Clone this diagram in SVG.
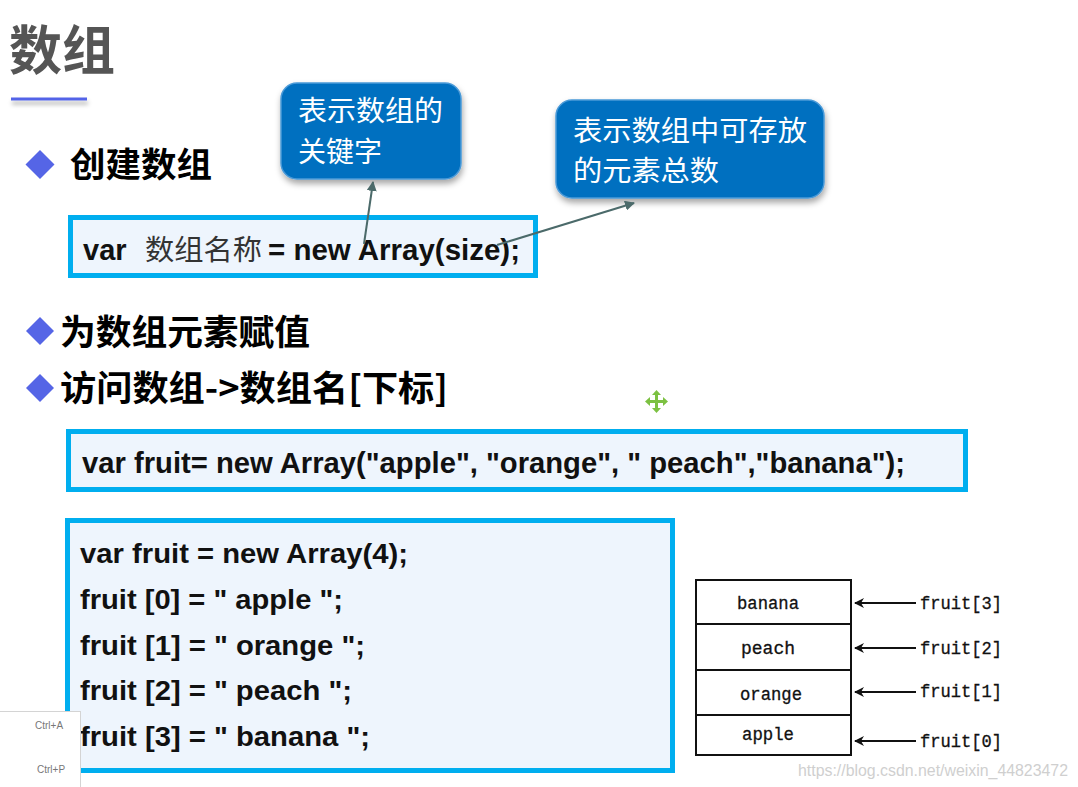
<svg xmlns="http://www.w3.org/2000/svg" width="1078" height="787" viewBox="0 0 1078 787">
<defs>
<style>
.cjkb{font-family:"Noto Sans CJK SC","Noto Sans",sans-serif;font-weight:700;fill:#000}
.callout{fill:#0470c0;stroke:#4a9ad8;stroke-width:1.5}
.ctext{font-family:"Noto Sans CJK SC","Noto Sans",sans-serif;font-size:28px;fill:#fff}
.code{fill:#eef5fd;stroke:#00aeef;stroke-width:5}
.ctx{font-family:"Liberation Sans",Arial,sans-serif;font-weight:700;fill:#111}
.bullet{fill:#5565e6}
.cell{fill:#fff;stroke:#111;stroke-width:2}
.mono{font-family:"Liberation Mono","DejaVu Sans Mono",monospace;font-size:18px;fill:#111;stroke:#111;stroke-width:0.3}
.conn{stroke:#4b6a6a;stroke-width:2;fill:none}
.tarr{stroke:#111;stroke-width:2;fill:none}
</style>
<filter id="shadow" x="-10%" y="-10%" width="130%" height="140%">
<feDropShadow dx="1" dy="4" stdDeviation="3" flood-color="#000" flood-opacity="0.35"/>
</filter>
<filter id="lshadow" x="-10%" y="-200%" width="130%" height="600%">
<feDropShadow dx="1" dy="4" stdDeviation="2" flood-color="#000" flood-opacity="0.3"/>
</filter>
<marker id="ah" viewBox="0 0 10 10" refX="9" refY="5" markerWidth="5" markerHeight="5" orient="auto">
<path d="M0,0 L10,5 L0,10 z" fill="#4b6a6a"/>
</marker>
<marker id="ahb" viewBox="0 0 10 10" refX="9" refY="5" markerWidth="11" markerHeight="10" markerUnits="userSpaceOnUse" orient="auto">
<path d="M0,0 L10,5 L0,10 L3,5 z" fill="#111"/>
</marker>
</defs>
<rect width="1078" height="787" fill="#fff"/>

<g id="title">
<text x="9" y="70" class="cjkb" font-size="53" style="fill:#555">数组</text>
<rect x="11" y="97.5" width="76" height="3" fill="#5363e8" filter="url(#lshadow)"/>
</g>

<g id="bullet-create">
<polygon class="bullet" points="40,150 54.5,164.5 40,179 25.5,164.5"/>
<text x="70" y="177" class="cjkb" font-size="34" textLength="142" lengthAdjust="spacingAndGlyphs">创建数组</text>
</g>

<g id="callout-keyword">
<rect class="callout" x="281" y="83" width="180" height="96" rx="16" filter="url(#shadow)"/>
<text x="298" y="121" class="ctext" textLength="145" lengthAdjust="spacingAndGlyphs">表示数组的</text>
<text x="298" y="162" class="ctext">关键字</text>
</g>

<g id="callout-size">
<rect class="callout" x="556" y="100" width="268" height="98" rx="16" filter="url(#shadow)"/>
<text x="573" y="141" class="ctext" textLength="234" lengthAdjust="spacingAndGlyphs">表示数组中可存放</text>
<text x="573" y="181" class="ctext" textLength="146" lengthAdjust="spacingAndGlyphs">的元素总数</text>
</g>

<g id="code-create">
<rect class="code" x="70.5" y="217.5" width="465" height="58"/>
<text x="83" y="260" class="ctx" font-size="29">var</text>
<text x="145" y="260" font-family="'Noto Sans CJK SC',sans-serif" font-size="28" fill="#333" textLength="117" lengthAdjust="spacingAndGlyphs">数组名称</text>
<text x="268" y="260" class="ctx" font-size="29" textLength="252" lengthAdjust="spacingAndGlyphs">= new Array(size);</text>
</g>

<g id="connectors">
<line class="conn" x1="364" y1="244" x2="373" y2="182" marker-end="url(#ah)"/>
<line class="conn" x1="497" y1="245" x2="634" y2="203" marker-end="url(#ah)"/>
</g>

<g id="bullet-assign">
<polygon class="bullet" points="40,317 54,331 40,345 26,331"/>
<text x="60" y="345" class="cjkb" font-size="35" textLength="250" lengthAdjust="spacingAndGlyphs">为数组元素赋值</text>
</g>

<g id="bullet-access">
<polygon class="bullet" points="40,374 54,388 40,402 26,388"/>
<text x="60" y="401" class="cjkb" font-size="35" textLength="388" lengthAdjust="spacingAndGlyphs">访问数组-&gt;数组名[下标]</text>
</g>

<g id="move-icon" fill="#7cc142">
<rect x="648" y="400" width="17" height="3"/>
<rect x="655" y="393" width="3" height="17"/>
<polygon points="656.5,390 652,395 661,395"/>
<polygon points="656.5,413 652,408 661,408"/>
<polygon points="645,401.5 650,397 650,406"/>
<polygon points="668,401.5 663,397 663,406"/>
</g>

<g id="code-literal">
<rect class="code" x="68.5" y="431.5" width="897" height="58"/>
<text x="82" y="473" class="ctx" font-size="29" textLength="823" lengthAdjust="spacingAndGlyphs">var fruit= new Array("apple", "orange", " peach","banana");</text>
</g>

<g id="code-assign">
<rect class="code" x="67.5" y="520.5" width="605" height="250"/>
<text x="80" y="563" class="ctx" font-size="28" textLength="328" lengthAdjust="spacingAndGlyphs">var fruit = new Array(4);</text>
<text x="80" y="609" class="ctx" font-size="28" textLength="263" lengthAdjust="spacingAndGlyphs">fruit [0] = " apple ";</text>
<text x="80" y="655" class="ctx" font-size="28" textLength="285" lengthAdjust="spacingAndGlyphs">fruit [1] = " orange ";</text>
<text x="80" y="700" class="ctx" font-size="28" textLength="272" lengthAdjust="spacingAndGlyphs">fruit [2] = " peach ";</text>
<text x="80" y="746" class="ctx" font-size="28" textLength="290" lengthAdjust="spacingAndGlyphs">fruit [3] = " banana ";</text>
</g>

<g id="array-table">
<rect class="cell" x="696" y="580" width="155" height="44"/>
<rect class="cell" x="696" y="624" width="155" height="46"/>
<rect class="cell" x="696" y="670" width="155" height="45"/>
<rect class="cell" x="696" y="715" width="155" height="40"/>
<text x="768" y="609" class="mono" text-anchor="middle" textLength="62" lengthAdjust="spacingAndGlyphs">banana</text>
<text x="768" y="654" class="mono" text-anchor="middle" textLength="54" lengthAdjust="spacingAndGlyphs">peach</text>
<text x="771" y="700" class="mono" text-anchor="middle" textLength="62" lengthAdjust="spacingAndGlyphs">orange</text>
<text x="768" y="740" class="mono" text-anchor="middle" textLength="52" lengthAdjust="spacingAndGlyphs">apple</text>
</g>

<g id="index-labels">
<text x="920" y="609" class="mono" textLength="82" lengthAdjust="spacingAndGlyphs">fruit[3]</text>
<text x="920" y="654" class="mono" textLength="82" lengthAdjust="spacingAndGlyphs">fruit[2]</text>
<text x="920" y="697" class="mono" textLength="82" lengthAdjust="spacingAndGlyphs">fruit[1]</text>
<text x="920" y="747" class="mono" textLength="82" lengthAdjust="spacingAndGlyphs">fruit[0]</text>
</g>

<g id="table-arrows">
<line class="tarr" x1="916" y1="603" x2="855" y2="603" marker-end="url(#ahb)"/>
<line class="tarr" x1="916" y1="648" x2="855" y2="648" marker-end="url(#ahb)"/>
<line class="tarr" x1="916" y1="692" x2="855" y2="692" marker-end="url(#ahb)"/>
<line class="tarr" x1="916" y1="741" x2="855" y2="741" marker-end="url(#ahb)"/>
</g>

<g id="context-menu">
<rect x="-1" y="711.5" width="81.5" height="80" fill="#fff" stroke="#d4d4d4" stroke-width="1"/>
<text x="35" y="729" font-family="'Liberation Sans',Arial,sans-serif" font-size="10" fill="#777">Ctrl+A</text>
<text x="37" y="773" font-family="'Liberation Sans',Arial,sans-serif" font-size="10" fill="#777">Ctrl+P</text>
</g>

<text id="watermark" x="798" y="776" font-family="'Liberation Sans',Arial,sans-serif" font-size="16" fill="#cfcfcf" textLength="270" lengthAdjust="spacingAndGlyphs">https://blog.csdn.net/weixin_44823472</text>
</svg>
